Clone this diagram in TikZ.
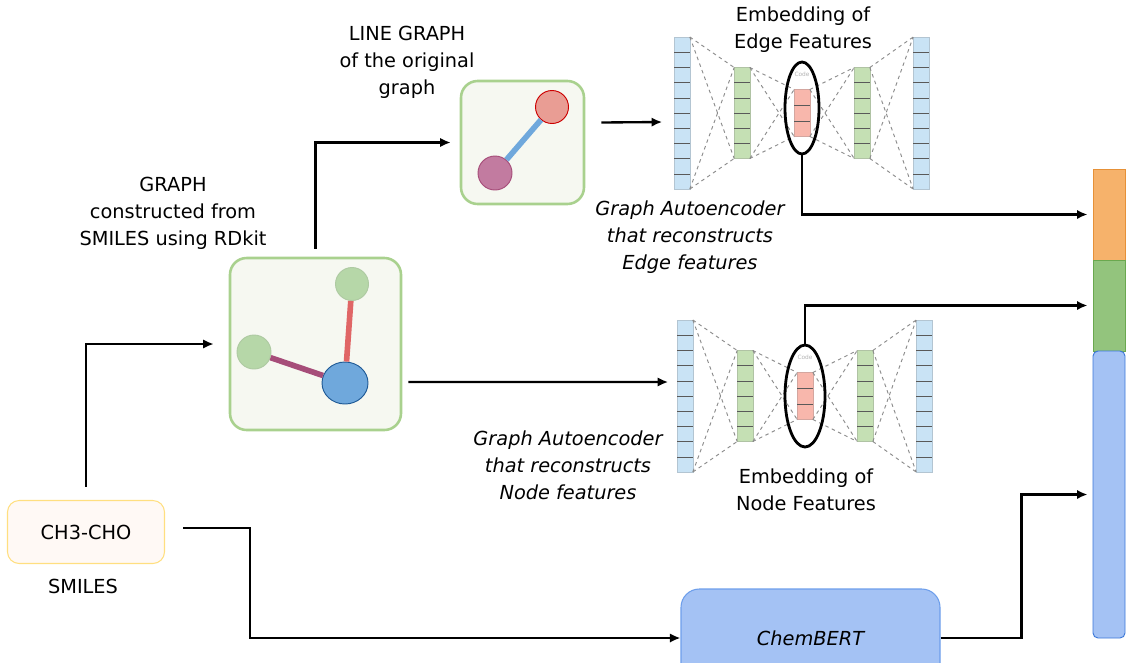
\documentclass[tikz,border=0pt]{standalone}
\usepackage{fontspec}
\setmainfont{DejaVu Sans}
\usetikzlibrary{shapes.geometric,calc,arrows.meta}

\definecolor{boxgreen}{HTML}{A9D18E}
\definecolor{boxfill}{HTML}{F6F8F1}
\definecolor{nodegreen}{HTML}{B6D7A8}
\definecolor{nodeblue}{HTML}{6FA8DC}
\definecolor{darkblue}{HTML}{1F5A96}
\definecolor{edgered}{HTML}{E06666}
\definecolor{edgepurple}{HTML}{A64D79}
\definecolor{pinkfill}{HTML}{E99D94}
\definecolor{plumfill}{HTML}{C27BA0}
\definecolor{cellblue}{HTML}{C9E3F5}
\definecolor{cellgreen}{HTML}{C5E0B4}
\definecolor{cellred}{HTML}{F8B7AC}
\definecolor{bertblue}{HTML}{A4C2F4}
\definecolor{bertline}{HTML}{6D9EEB}
\definecolor{barorange}{HTML}{F6B26B}
\definecolor{barorangeline}{HTML}{E69138}
\definecolor{bargreen}{HTML}{93C47D}
\definecolor{bargreenline}{HTML}{6AA84F}
\definecolor{barblueline}{HTML}{3C78D8}
\definecolor{smilesfill}{HTML}{FFF9F5}
\definecolor{smilesline}{HTML}{FFDF80}

\tikzset{
	arr/.style={-{Latex[length=9pt,width=8pt]}, line width=2pt},
	lbl/.style={align=center, font=\fontsize{16.5}{23}\selectfont},
	itlbl/.style={lbl, font=\fontsize{16.5}{23}\selectfont\itshape},
	graphbox/.style={draw=boxgreen, fill=boxfill, line width=2.2pt, rounded corners=0.5cm},
	gnode/.style={circle, draw, line width=0.8pt, inner sep=0},
	col/.style={draw=#1!70!gray, fill=#1, line width=0.4pt, inner sep=0, outer sep=0, minimum width=0.47cm},
	cell/.style={gray!70!black, line width=0.4pt},
	link/.style={gray!90, dashed, line width=0.8pt},
	ring/.style={ellipse, draw, line width=2.4pt, inner sep=0},
	barpart/.style={draw, line width=0.8pt, inner sep=0, minimum width=0.96cm}
}

\begin{document}
\begin{tikzpicture}[x=0.03cm,y=-0.03cm]
	\useasboundingbox (0,0) rectangle (1127,662);

	% SMILES input
	\node[lbl, draw=smilesline, fill=smilesfill, line width=0.9pt, rounded corners=0.35cm, minimum width=4.71cm, minimum height=1.89cm] (smiles) at (86,532) {CH3-CHO};
	\node[lbl] (smileslbl) at (83,586) {SMILES};

	% molecular graph
	\node[graphbox, minimum width=5.13cm, minimum height=5.16cm] (graph) at (315.5,344) {};
	\node[gnode, draw=nodegreen!85!gray, fill=nodegreen, minimum size=0.99cm] (ga) at (352,284) {};
	\node[gnode, draw=nodegreen!85!gray, fill=nodegreen, minimum size=1.02cm] (gb) at (254,352) {};
	\node[ellipse, draw=darkblue, fill=nodeblue, line width=0.8pt, inner sep=0, minimum width=1.38cm, minimum height=1.26cm] (gc) at (345,383) {};
	\draw[edgered, line width=4.8pt] (ga) -- (gc);
	\draw[edgepurple, line width=4.8pt] (gb) -- (gc);
	\node[lbl] (graphlbl) at (173,213) {GRAPH\\constructed from\\SMILES using RDkit};

	% line graph
	\node[graphbox, minimum width=3.69cm, minimum height=3.69cm] (lg) at (522.5,142.5) {};
	\node[gnode, draw=red!80!black, fill=pinkfill, minimum size=0.99cm] (la) at (552,107) {};
	\node[gnode, draw=edgepurple, fill=plumfill, minimum size=1.02cm] (lb) at (495,173) {};
	\draw[nodeblue, line width=4.8pt] (la) -- (lb);
	\node[lbl] (lglbl) at (407,62) {LINE GRAPH\\of the original\\graph};

	% the two autoencoders
	\foreach \p/\dx/\dy in {e/0/0,n/3/283} {
		\node[col=cellblue, minimum height=4.56cm] (\p b1) at (682+\dx,113+\dy) {};
		\node[col=cellgreen, minimum height=2.73cm] (\p g1) at (742+\dx,113+\dy) {};
		\node[col=cellred, minimum height=1.41cm] (\p c) at (802+\dx,113+\dy) {};
		\node[col=cellgreen, minimum height=2.73cm] (\p g2) at (862+\dx,113+\dy) {};
		\node[col=cellblue, minimum height=4.56cm] (\p b2) at (921+\dx,113+\dy) {};
		\node[font=\tiny, text=gray!60, inner sep=0] (\p code) at (802+\dx,74+\dy) {Code};
		\foreach \c/\n/\m in {b1/10/9,g1/6/5,c/3/2,g2/6/5,b2/10/9}
			\foreach \k in {1,...,\m}
				\draw[cell] ($(\p\c.north west)!\k/\n!(\p\c.south west)$) -- ($(\p\c.north east)!\k/\n!(\p\c.south east)$);
		\foreach \a/\b in {b1/g1,g1/c,c/g2,g2/b2} {
			\draw[link] (\p\a.north east) -- (\p\b.north west);
			\draw[link] (\p\a.north east) -- (\p\b.south west);
			\draw[link] (\p\a.south east) -- (\p\b.north west);
			\draw[link] (\p\a.south east) -- (\p\b.south west);
		}
	}
	\node[ring, minimum width=1.02cm, minimum height=2.76cm] (ering) at (802,108) {};
	\node[ring, minimum width=1.2cm, minimum height=3.06cm] (nring) at (805,396) {};

	\node[lbl] (elbl) at (803,30) {Embedding of\\Edge Features};
	\node[itlbl] (eaelbl) at (690,237) {Graph Autoencoder\\that reconstructs\\Edge features};
	\node[lbl] (nlbl) at (806,490) {Embedding of\\Node Features};
	\node[itlbl] (naelbl) at (568,465) {Graph Autoencoder\\that reconstructs\\Node features};

	% ChemBERT
	\node[itlbl, draw=bertline, fill=bertblue, line width=0.9pt, rounded corners=0.55cm, minimum width=7.77cm, minimum height=2.94cm] (chem) at (810.5,638) {ChemBERT};

	% concatenated embedding
	\node[barpart, draw=barorangeline, fill=barorange, minimum height=2.73cm] (orange) at (1109,214.5) {};
	\node[barpart, draw=bargreenline, fill=bargreen, minimum height=2.73cm] (green) at (1109,305.5) {};
	\node[barpart, draw=barblueline, fill=bertblue, rounded corners=0.15cm, minimum height=8.61cm] (blue) at (1109,494.5) {};

	% connections
	\draw[arr, shorten <=0.39cm, shorten >=0.45cm] (smiles.north) |- (graph.west);
	\draw[arr, shorten <=0.24cm, shorten >=0.27cm] (graph.north) |- (lg.west);
	\draw[arr] ([xshift=0.48cm,yshift=0.6cm]lg.east) -- ([xshift=-0.36cm,yshift=-0.27cm]eb1.west);
	\draw[arr] ([xshift=0.18cm,yshift=-1.14cm]graph.east) -- ([xshift=-0.27cm,yshift=0.42cm]nb1.west);
	\draw[arr] ([xshift=0.54cm,yshift=0.12cm]smiles.east) -- ++(67,0) |- (chem.west);
	\draw[arr, shorten >=0.15cm] (ering.south) |- (orange.west);
	\draw[arr, shorten >=0.15cm] (nring.north) |- (green.west);
	\draw[arr, shorten >=0.15cm] (chem.east) -- ++(81,0) |- (blue.west);
\end{tikzpicture}
\end{document}
